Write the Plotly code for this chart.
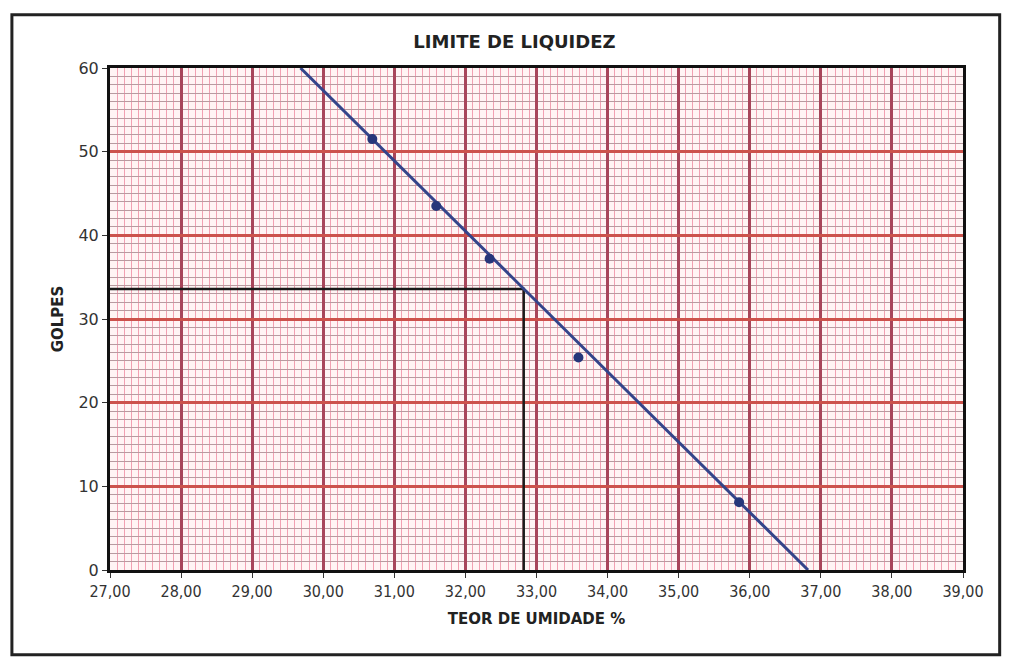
import plotly.graph_objects as go

# ensaio de limite de liquidez
teor_umidade = [30.69, 31.59, 32.34, 33.59, 35.85]
golpes = [51.5, 43.5, 37.2, 25.4, 8.1]

# reta de ajuste
reta_x = [29.68, 36.82]
reta_y = [60, 0]

# leitura do limite
leitura_x = [27, 32.82, 32.82]
leitura_y = [33.6, 33.6, 0]

fig = go.Figure()

fig.add_trace(go.Scatter(
    x=leitura_x, y=leitura_y, mode='lines',
    line=dict(color='#1a1a1a', width=2.5),
    showlegend=False, hoverinfo='skip'
))

fig.add_trace(go.Scatter(
    x=reta_x, y=reta_y, mode='lines',
    line=dict(color='#34448a', width=3),
    showlegend=False
))

fig.add_trace(go.Scatter(
    x=teor_umidade, y=golpes, mode='markers',
    marker=dict(color='#26367a', size=10),
    showlegend=False
))

fig.update_xaxes(
    range=[27, 39], dtick=1, tickformat='.2f', automargin=False,
    showgrid=True, gridcolor='#a8455a', gridwidth=2.5,
    minor=dict(dtick=0.1, showgrid=True, gridcolor='#f2a0b2', gridwidth=1),
    showline=True, linecolor='#111111', linewidth=3, mirror=True,
    ticks='outside', ticklen=5, tickcolor='#333333',
    tickfont=dict(family='DejaVu Sans Condensed, DejaVu Sans', size=16, color='#333333'),
    title=dict(text='<b>TEOR DE UMIDADE %</b>', standoff=14,
               font=dict(family='DejaVu Sans', size=15, color='#222222')),
    zeroline=False
)

fig.update_yaxes(
    range=[0, 60], dtick=10, automargin=False,
    showgrid=True, gridcolor='#cc524c', gridwidth=2.5,
    minor=dict(dtick=1, showgrid=True, gridcolor='#b89aa0', gridwidth=1),
    showline=True, linecolor='#111111', linewidth=3, mirror=True,
    ticks='outside', ticklen=5, tickcolor='#333333',
    tickfont=dict(family='DejaVu Sans', size=16, color='#333333'),
    title=dict(text='<b>GOLPES</b>', standoff=12,
               font=dict(family='DejaVu Sans', size=15, color='#222222')),
    zeroline=False
)

fig.update_layout(
    width=997, height=654,
    margin=dict(l=102, r=42, t=60, b=92),
    paper_bgcolor='white', plot_bgcolor='#fff4f4',
    separators=',.',
    title=dict(text='<b>LIMITE DE LIQUIDEZ</b>', x=0.508, xanchor='center',
               y=0.948, yanchor='middle',
               font=dict(family='DejaVu Sans', size=18, color='#222222')),
    shapes=[dict(type='rect', xref='paper', yref='paper',
                 x0=-0.115, x1=1.043, y0=-0.169, y1=1.106,
                 line=dict(color='#222222', width=3))]
)

fig.write_html("out.html")
